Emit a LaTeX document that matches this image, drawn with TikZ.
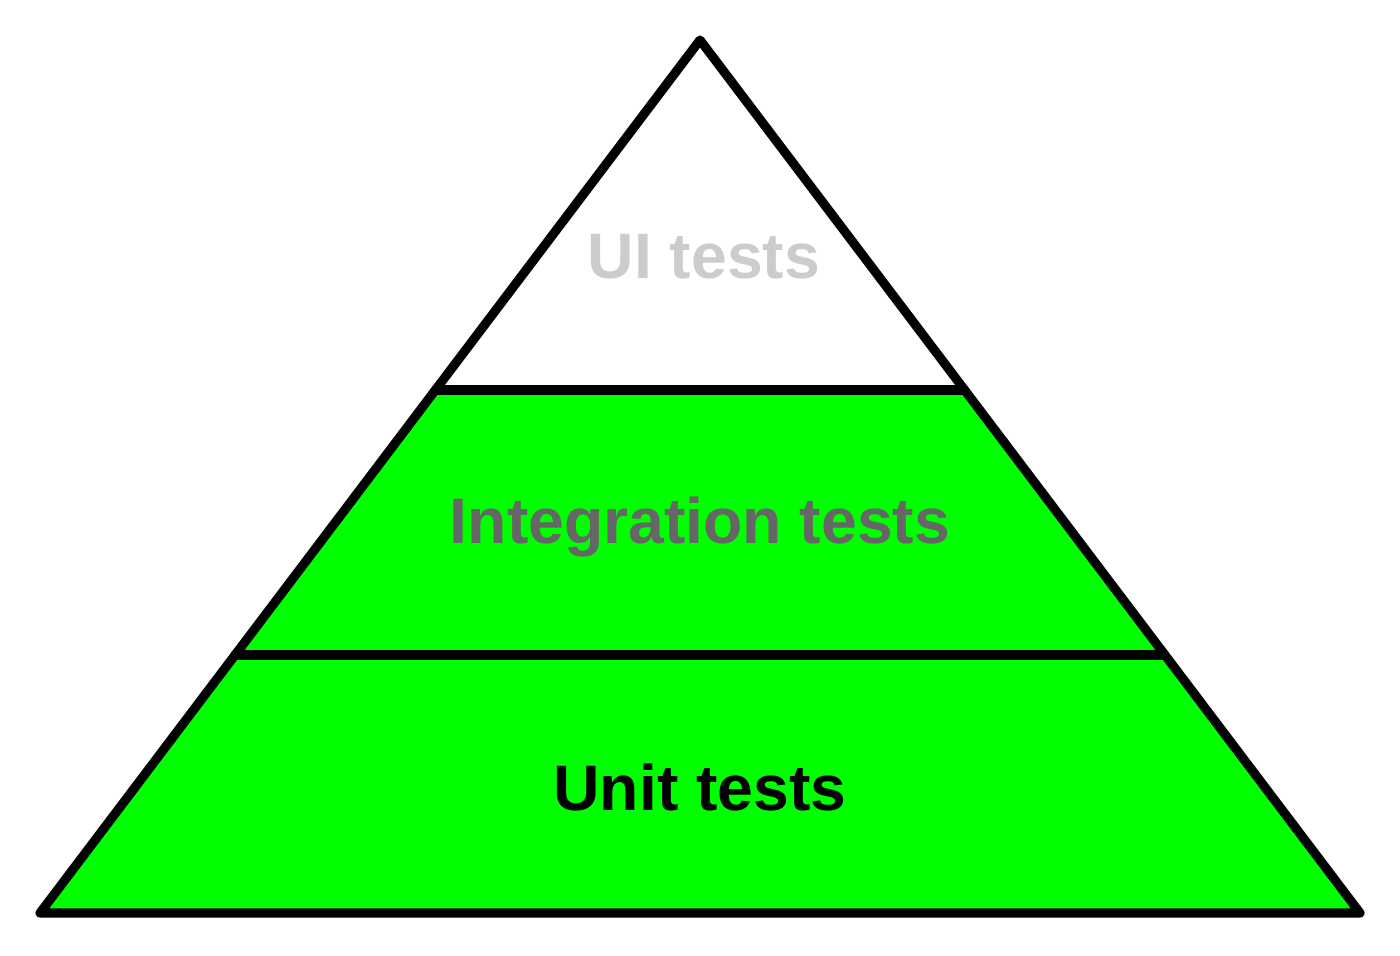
\documentclass[tikz,border=0pt]{standalone}
\usepackage{fontspec}
\setmainfont{Liberation Sans}
\usepackage{xcolor}
\usetikzlibrary{calc}

\definecolor{tiergreen}{HTML}{00FF00}
\definecolor{uigrey}{HTML}{CCCCCC}
\definecolor{intgrey}{HTML}{666666}

\begin{document}
\begin{tikzpicture}[
  x=0.02cm, y=-0.02cm,
  outline/.style={draw=black, line width=5.2pt, line join=round, line cap=round},
  tierlabel/.style={font=\fontsize{36.6}{40}\selectfont\bfseries, inner sep=0pt}
]
\useasboundingbox (0,0) rectangle (1400,956);

\coordinate (apex) at (700,40);
\coordinate (bl) at (40,913);
\coordinate (br) at (1360,913);
\coordinate (ml) at ($(apex)!0.4009!(bl)$);
\coordinate (mr) at ($(apex)!0.4009!(br)$);
\coordinate (ll) at ($(apex)!0.7045!(bl)$);
\coordinate (lr) at ($(apex)!0.7045!(br)$);

% green lower tiers
\fill[tiergreen] (ml) -- (mr) -- (br) -- (bl) -- cycle;

% tier borders
\draw[outline] (ml) -- (mr);
\draw[outline] (ll) -- (lr);
\draw[outline] (apex) -- (br) -- (bl) -- cycle;

\node[tierlabel, text=uigrey] (ui) at (704,257) {UI tests};
\node[tierlabel, text=intgrey] (integ) at (700,527) {Integration tests};
\node[tierlabel, text=black] (unit) at (700,788) {Unit tests};
\end{tikzpicture}
\end{document}
